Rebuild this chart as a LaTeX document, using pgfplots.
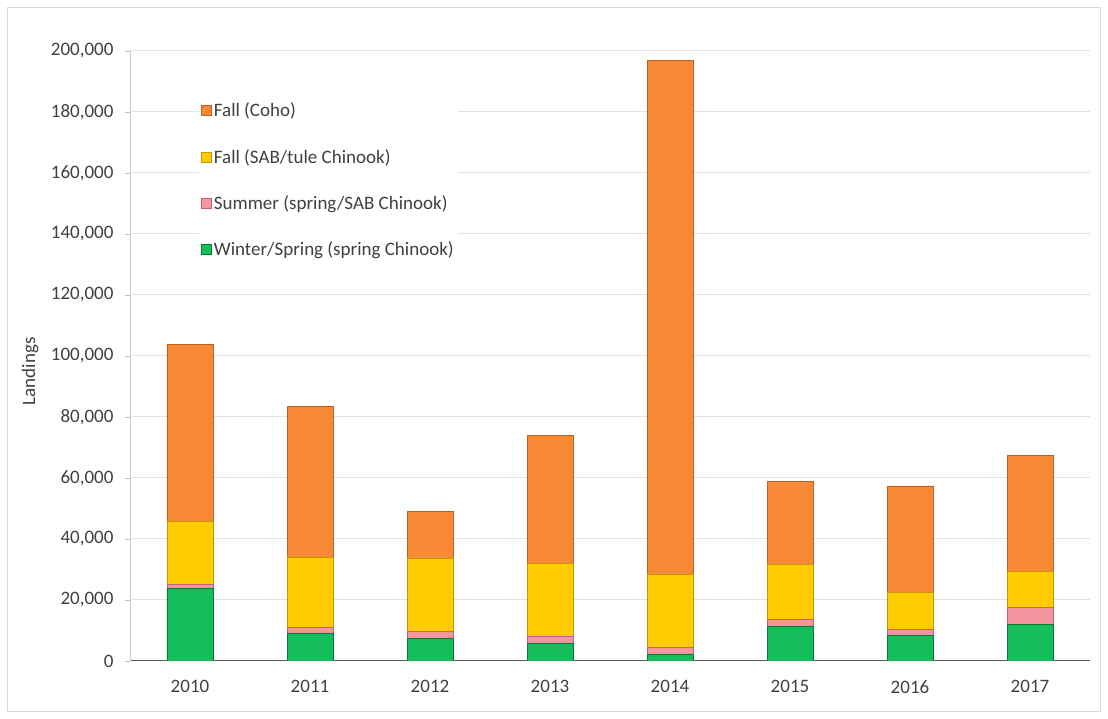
\documentclass[border=0pt]{standalone}
\usepackage{fontspec}
\setmainfont{Carlito}
\usepackage{pgfplots}
\pgfplotsset{compat=1.18}
\definecolor{coho}{RGB}{247,137,55}
\definecolor{cohoD}{RGB}{190,95,30}
\definecolor{tule}{RGB}{255,204,0}
\definecolor{tuleD}{RGB}{200,150,0}
\definecolor{summer}{RGB}{244,150,160}
\definecolor{summerD}{RGB}{190,100,110}
\definecolor{spring}{RGB}{20,190,90}
\definecolor{springD}{RGB}{10,120,50}
\definecolor{txt}{RGB}{64,64,64}
\begin{document}
\begin{tikzpicture}[font=\fontsize{19}{23}\selectfont]
\begin{axis}[
  name=main, anchor=south west, at={(0,0)},
  scale only axis, width=960pt, height=610pt,
  ybar stacked, bar width=46pt,
  xmin=-0.5, xmax=7.5, ymin=0, ymax=200000,
  xtick={0,...,7}, xticklabels={2010,2011,2012,2013,2014,2015,2016,2017},
  x tick style={draw=none},
  ytick={0,20000,...,200000},
  scaled y ticks=false,
  yticklabel style={xshift=-8pt, text=txt, /pgf/number format/fixed, /pgf/number format/1000 sep={,}, /pgf/number format/assume math mode=true},
  xticklabel style={yshift=-11pt, text=txt},
  ymajorgrids, grid style={gray!22, line width=1pt},
  axis x line*=bottom, axis y line*=left,
  x axis line style={gray!70!black, line width=1pt, -},
  y axis line style={gray!40, line width=0.8pt, -},
  y tick style={gray!50, line width=0.8pt}, tick align=outside, major tick length=5pt,
  ylabel={Landings},
  y label style={at={(axis description cs:-0.104,0.475)}, anchor=center, text=txt},
  every axis plot post/.append style={legend image code/.code={\draw[##1, line width=0.6pt] (0pt,-5pt) rectangle (10pt,5pt);}},
  reverse legend,
  legend style={at={(axis description cs:0.072,0.922)}, anchor=north west, draw=none, fill=white,
    row sep=27pt, text=txt, inner sep=2pt,
    /tikz/every even column/.append style={column sep=7pt}},
  legend cell align=left,
]
\addplot[fill=spring, draw=springD, line width=0.8pt] coordinates {(0,23900) (1,9200) (2,7500) (3,5900) (4,2300) (5,11500) (6,8500) (7,12000)};
\addplot[fill=summer, draw=summerD, line width=0.8pt] coordinates {(0,1300) (1,1700) (2,2300) (3,2100) (4,2100) (5,2200) (6,1700) (7,5600)};
\addplot[fill=tule, draw=tuleD, line width=0.8pt] coordinates {(0,20700) (1,23200) (2,24000) (3,24000) (4,24100) (5,18000) (6,12300) (7,11700)};
\addplot[fill=coho, draw=cohoD, line width=0.8pt] coordinates {(0,58000) (1,49500) (2,15100) (3,42000) (4,168500) (5,27300) (6,34900) (7,38200)};
\legend{Winter/Spring (spring Chinook), Summer (spring/SAB Chinook), Fall (SAB/tule Chinook), Fall (Coho)}
\end{axis}
\draw[gray!30, line width=1pt] ([shift={(-122pt,-51pt)}]main.south west) rectangle ([shift={(970pt,653pt)}]main.south west);
\path ([shift={(-130pt,-58pt)}]main.south west) rectangle ([shift={(978pt,661pt)}]main.south west);
\end{tikzpicture}
\end{document}
